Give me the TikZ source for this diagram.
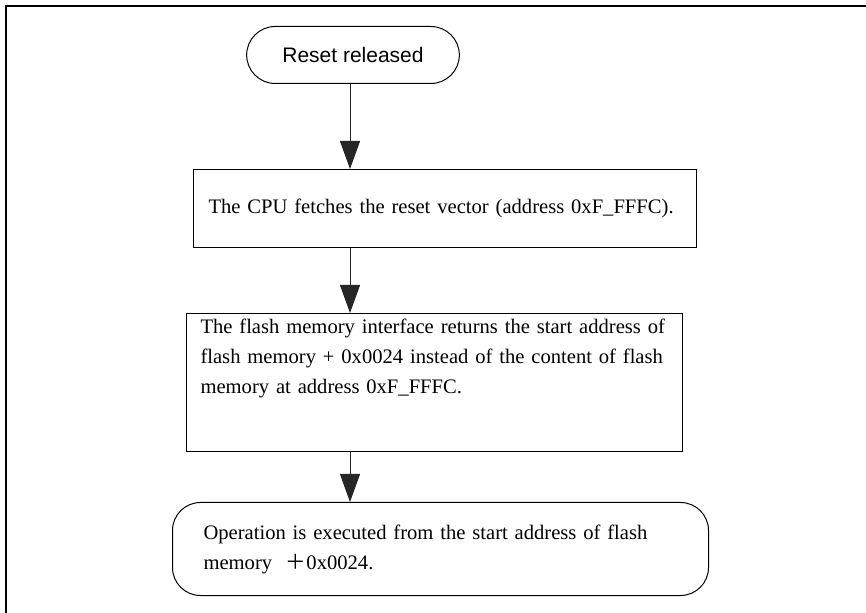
\documentclass[tikz,border=0pt]{standalone}
\usepackage{fontspec}
\setmainfont{Liberation Serif}
\setsansfont{Liberation Sans}
\newfontfamily\cjk{Noto Sans CJK SC}
\usetikzlibrary{arrows.meta, shapes.misc}

\begin{document}
\begin{tikzpicture}[x=0.5pt, y=-0.5pt,
  every node/.style={font=\fontsize{10.3}{15}\selectfont},
  stepbox/.style={draw, line width=0.5pt, align=left, anchor=north west, inner xsep=7.5pt},
  flow/.style={draw=black!85, line width=0.5pt, -{Triangle[length=14pt, width=10pt]}}]
  \useasboundingbox (0,0) rectangle (866,613);
  % outer frame, open at right and bottom
  \draw[line width=0.8pt] (6,613) -- (6,6) -- (866,6);
  \coordinate (axis) at (350,0);

  \node (start) [draw, line width=0.5pt, rounded rectangle, minimum width=113pt, minimum height=28.5pt,
    font=\sffamily\fontsize{10.5}{12}\selectfont] at (353,55) {Reset released};
  \node (fetch) [stepbox, text width=236.5pt, minimum height=39pt] at (193,169)
    {The CPU fetches the reset vector (address 0xF\_FFFC).};
  \node (iface) [stepbox, text width=234pt, inner xsep=7pt, text height=6.5pt, text depth=56pt,
    font=\fontsize{10.3}{15}\selectfont] at (186,313)
    {The flash memory interface returns the start address of\\
     flash memory + 0x0024 instead of the content of flash\\
     memory at address 0xF\_FFFC.};
  \node (run) [stepbox, rounded corners=14pt, text width=237pt, inner xsep=15.5pt, minimum height=46.5pt] at (172,502)
    {Operation is executed from the start address of flash\\
     memory\ \ {\cjk ＋}0x0024.};

  \foreach \a/\b in {start/fetch, fetch/iface, iface/run}
    \draw[flow] (\a.south -| axis) -- (\b.north -| axis);
\end{tikzpicture}
\end{document}
